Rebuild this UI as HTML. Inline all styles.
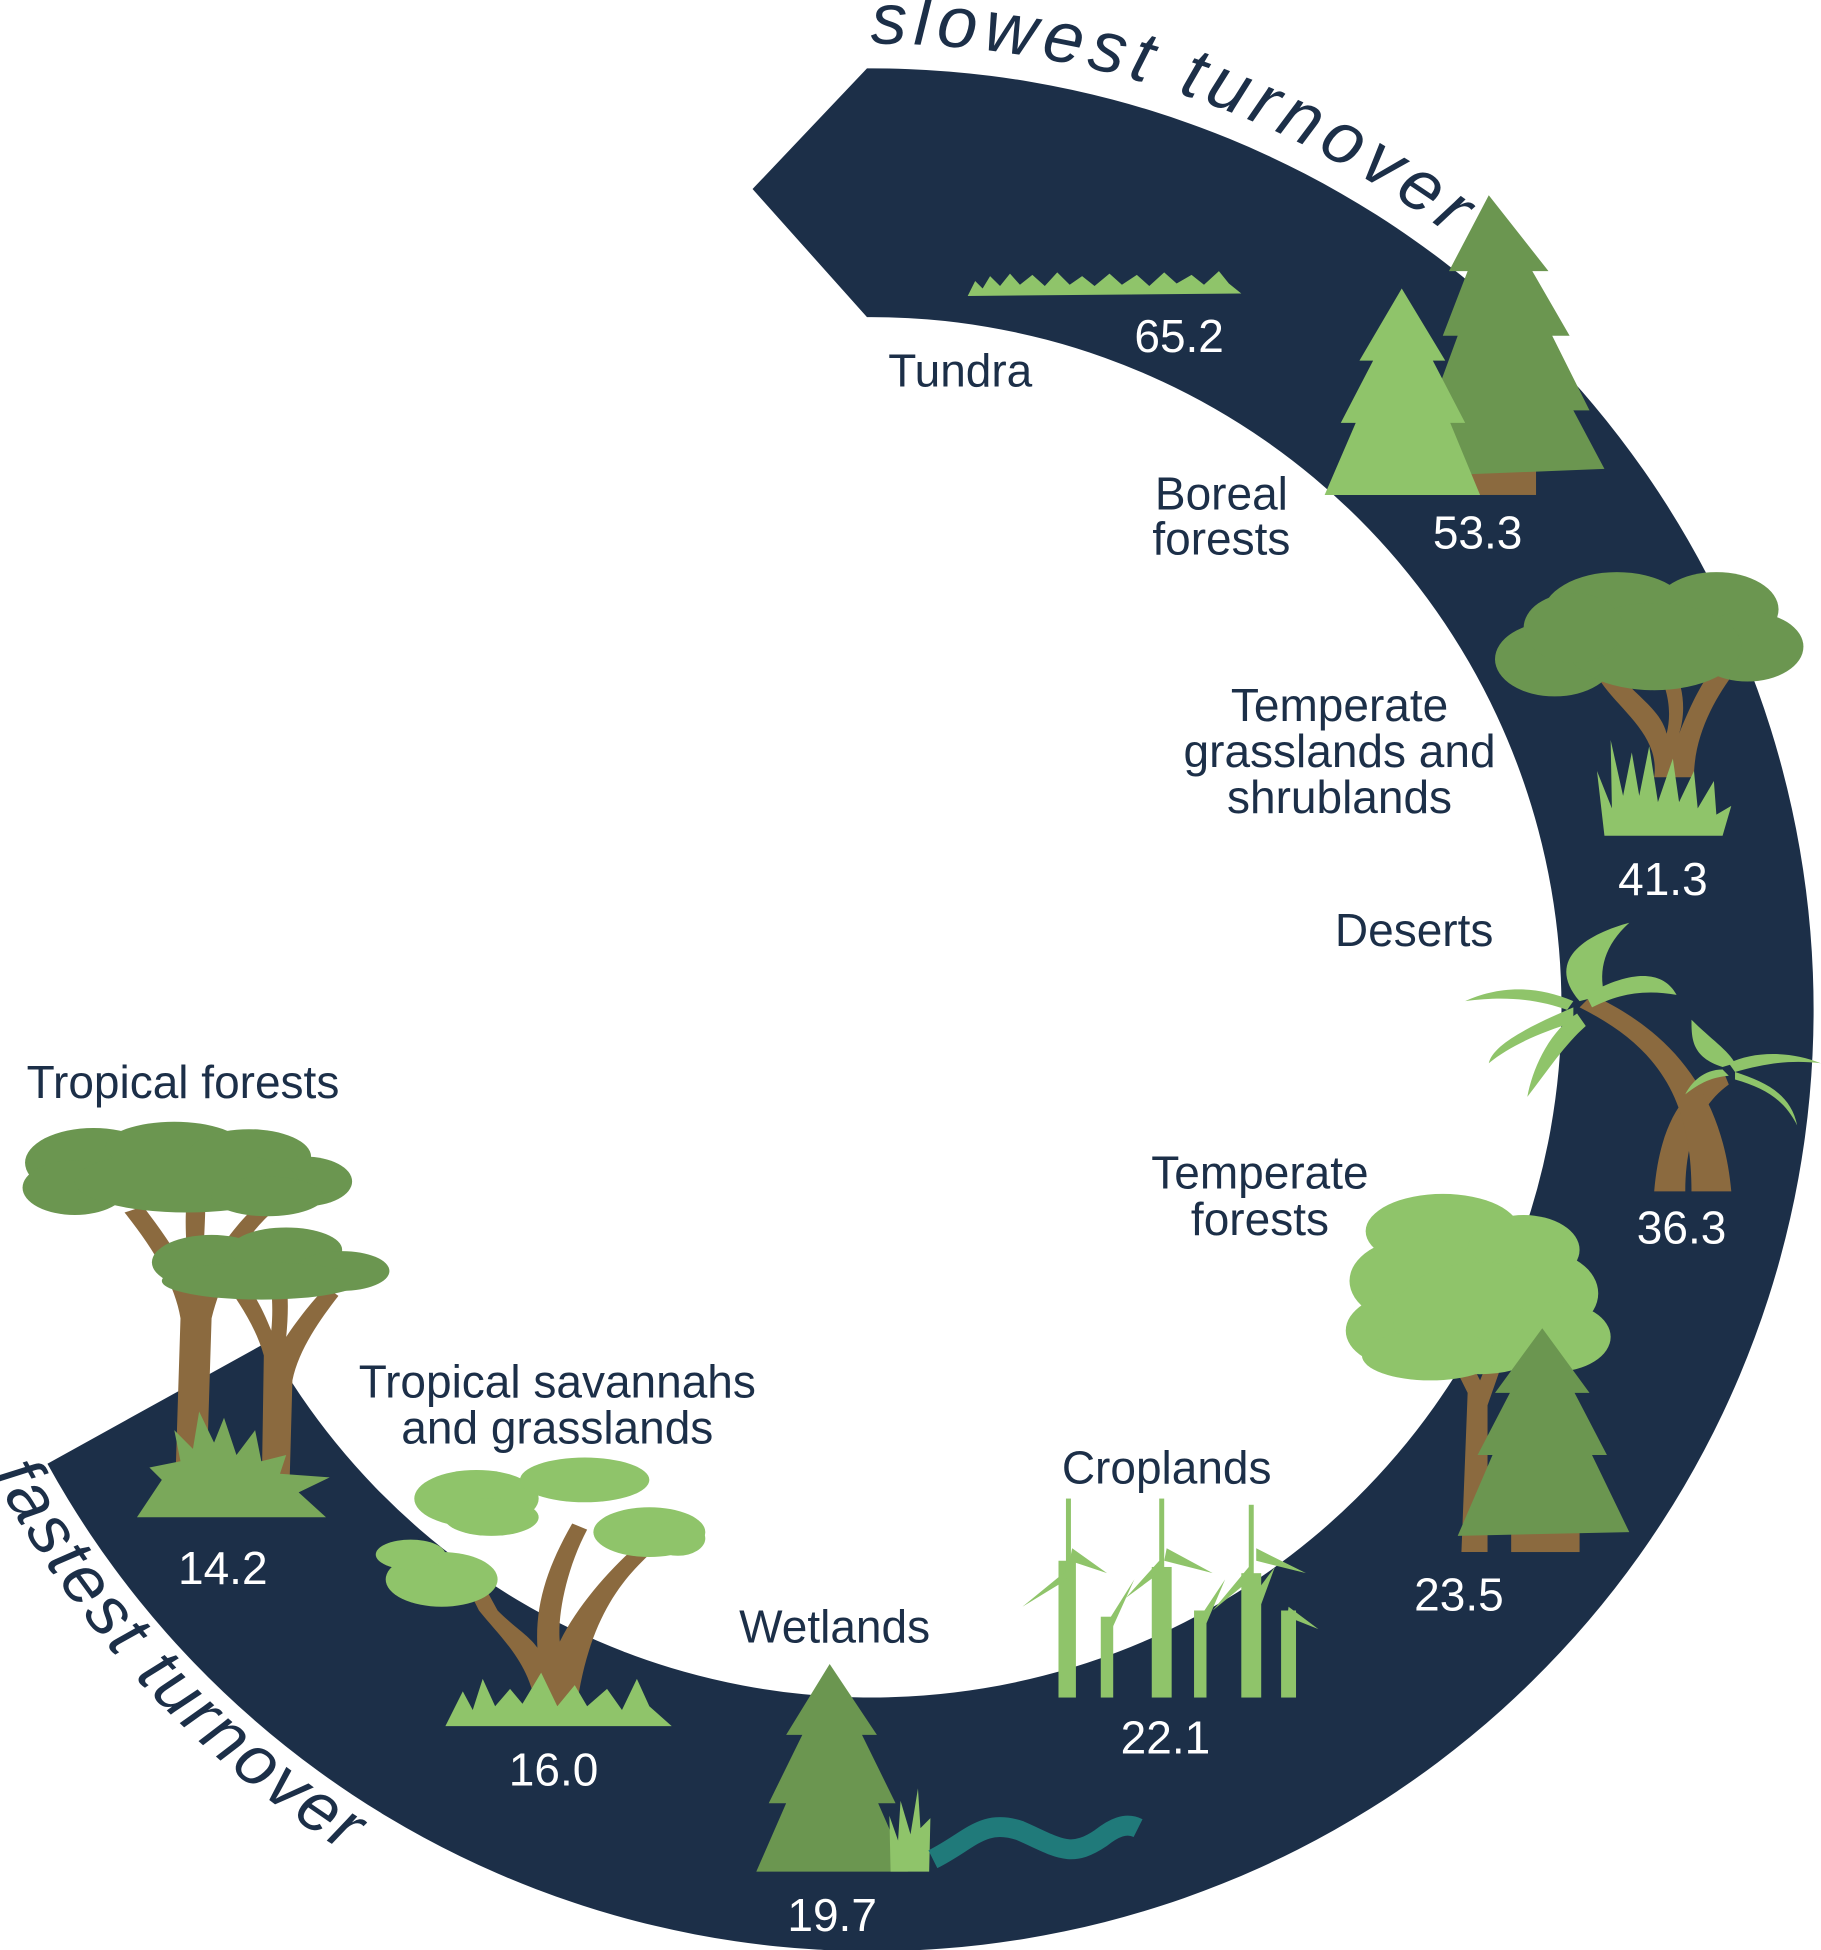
<!DOCTYPE html>
<html><head><meta charset="utf-8"><style>
html,body{margin:0;padding:0;background:#fff}
svg{display:block}
text{font-family:"Liberation Sans","DejaVu Sans",sans-serif}
</style></head><body>
<svg width="1821" height="1950" viewBox="0 0 1464 1568" xmlns="http://www.w3.org/2000/svg">
<defs>
<path id="slow" d="M 700 35 A 775 775 0 0 1 1180 200" fill="none"/>
<path id="fast" d="M -6 1186 A 800 800 0 0 0 300 1503" fill="none"/>
</defs>
<path d="M 697 55 A 757 757 0 1 1 38 1177 L 215 1079 A 555 555 0 1 0 697 255 L 605 152 Z" fill="#1c2f48"/>
<text font-size="58" font-style="italic" fill="#1c2f48"><textPath href="#slow" textLength="500" lengthAdjust="spacing">slowest turnover</textPath></text>
<text font-size="56" font-style="italic" fill="#1c2f48"><textPath href="#fast" textLength="420" lengthAdjust="spacing">fastest turnover</textPath></text>

<path d="M778 238 L784 226 L790 232 L796 222 L804 230 L812 220 L820 229 L830 221 L840 230 L850 219 L860 229 L870 222 L880 230 L892 220 L902 229 L914 221 L924 230 L936 219 L946 228 L958 221 L968 229 L980 218 L988 228 L998 236 Z" fill="#8fc46a"/>

<rect x="1175" y="378" width="60" height="20" fill="#8b6a3f"/>
<path d="M1197 157 L1245 218 L1232 218 L1262 270 L1248 270 L1278 330 L1265 330 L1290 377 L1140 383 L1160 330 L1150 330 L1172 270 L1160 270 L1180 218 L1165 218 Z" fill="#6b9650"/>
<path d="M1127 232 L1162 290 L1152 290 L1178 340 L1166 340 L1190 398 L1065 398 L1090 340 L1078 340 L1104 290 L1093 290 Z" fill="#8fc46a"/>

<path d="M1330 625 C1335 590 1300 570 1285 545 L1300 540 C1315 560 1335 570 1340 590 C1345 570 1340 550 1330 535 L1345 535 C1355 555 1355 575 1350 590 C1360 565 1370 545 1380 535 L1395 540 C1380 560 1362 590 1362 625 Z" fill="#8b6a3f"/>
<g fill="#6b9650">
<ellipse cx="1250" cy="530" rx="48" ry="30"/><ellipse cx="1300" cy="495" rx="60" ry="35"/><ellipse cx="1380" cy="490" rx="50" ry="30"/><ellipse cx="1405" cy="520" rx="45" ry="28"/><ellipse cx="1330" cy="520" rx="70" ry="35"/><ellipse cx="1265" cy="505" rx="40" ry="28"/>
</g>
<path d="M1290 672 L1284 620 L1296 650 L1295 595 L1305 640 L1312 605 L1318 640 L1326 600 L1333 645 L1345 610 L1350 645 L1362 620 L1365 650 L1378 628 L1380 655 L1392 648 L1385 672 Z" fill="#8fc46a"/>

<path d="M1330 958 C1335 900 1355 875 1385 860 L1390 872 C1365 890 1355 920 1355 958 Z" fill="#8b6a3f"/>
<path d="M1360 958 C1360 880 1330 840 1270 810 L1280 800 C1345 830 1385 880 1392 958 Z" fill="#8b6a3f"/>
<g fill="#8fc46a">
<path d="M1270 805 C1240 770 1280 750 1310 742 C1290 760 1285 780 1290 800 Z"/>
<path d="M1275 800 C1320 775 1340 785 1348 800 C1320 795 1300 800 1280 810 Z"/>
<path d="M1265 805 C1230 790 1200 795 1178 805 C1215 800 1240 805 1260 812 Z"/>
<path d="M1265 810 C1230 825 1200 840 1197 855 C1215 840 1240 830 1265 822 Z"/>
<path d="M1268 815 C1245 830 1232 860 1228 882 C1245 860 1258 840 1275 825 Z"/>
<path d="M1385 858 C1360 850 1360 835 1360 820 C1375 835 1390 845 1395 855 Z"/>
<path d="M1390 855 C1410 845 1440 845 1464 855 C1440 852 1420 855 1395 862 Z"/>
<path d="M1385 860 C1370 860 1360 870 1355 880 C1370 868 1380 866 1390 865 Z"/>
<path d="M1395 862 C1420 870 1440 880 1445 905 C1435 885 1420 875 1395 868 Z"/>
</g>

<path d="M1175 1248 L1180 1120 L1165 1090 L1180 1090 L1190 1110 L1200 1085 L1210 1090 L1196 1130 L1196 1248 Z" fill="#8b6a3f"/>
<g fill="#8fc46a">
<ellipse cx="1160" cy="990" rx="62" ry="30"/><ellipse cx="1225" cy="1005" rx="45" ry="28"/><ellipse cx="1140" cy="1030" rx="55" ry="35"/><ellipse cx="1235" cy="1040" rx="50" ry="35"/><ellipse cx="1130" cy="1070" rx="48" ry="30"/><ellipse cx="1190" cy="1060" rx="70" ry="45"/><ellipse cx="1250" cy="1075" rx="45" ry="28"/><ellipse cx="1150" cy="1090" rx="55" ry="20"/>
</g>
<rect x="1215" y="1230" width="55" height="18" fill="#8b6a3f"/>
<path d="M1240 1068 L1278 1120 L1266 1120 L1292 1170 L1280 1170 L1310 1232 L1172 1235 L1200 1170 L1188 1170 L1214 1120 L1202 1120 Z" fill="#6b9650"/>

<g fill="#8fc46a">
<rect x="851" y="1255" width="14" height="110"/><rect x="857" y="1205" width="4" height="60"/>
<rect x="885" y="1300" width="10" height="65"/>
<rect x="926" y="1260" width="16" height="105"/><rect x="932" y="1205" width="4" height="60"/>
<rect x="960" y="1295" width="10" height="70"/>
<rect x="998" y="1265" width="16" height="100"/><rect x="1004" y="1210" width="4" height="60"/>
<rect x="1030" y="1295" width="12" height="70"/>
<path d="M855 1265 L822 1292 L858 1270 Z M862 1245 L890 1265 L860 1255 Z M890 1305 L912 1270 L893 1312 Z M932 1255 L905 1285 L936 1262 Z M938 1245 L975 1265 L936 1255 Z M965 1300 L985 1270 L968 1310 Z M1004 1260 L975 1295 L1008 1268 Z M1010 1245 L1050 1265 L1010 1255 Z M1035 1300 L1060 1310 L1036 1292 Z M1010 1280 L1025 1260 L1014 1290 Z"/>
</g>

<path d="M667 1338 L705 1395 L693 1395 L720 1450 L706 1450 L730 1505 L608 1505 L632 1450 L618 1450 L645 1395 L632 1395 Z" fill="#6b9650"/>
<path d="M716 1505 L715 1460 L722 1480 L724 1448 L732 1475 L738 1438 L740 1470 L748 1462 L747 1505 Z" fill="#8fc46a"/>
<path d="M750 1495 C780 1480 790 1462 820 1472 C850 1485 860 1495 885 1478 C895 1470 905 1465 915 1470" fill="none" stroke="#207a7a" stroke-width="16"/>

<path d="M432 1385 C430 1340 405 1320 385 1295 L370 1265 L382 1262 L400 1295 C415 1310 425 1315 432 1325 C430 1290 440 1260 460 1225 L472 1230 C455 1262 448 1300 450 1320 C465 1290 490 1262 515 1240 L522 1250 C495 1275 470 1310 462 1385 Z" fill="#8b6a3f"/>
<g fill="#8fc46a">
<ellipse cx="383" cy="1205" rx="50" ry="23"/><ellipse cx="395" cy="1220" rx="38" ry="15"/>
<ellipse cx="470" cy="1190" rx="52" ry="18"/>
<ellipse cx="522" cy="1232" rx="45" ry="20"/><ellipse cx="545" cy="1237" rx="22" ry="14"/>
<ellipse cx="355" cy="1270" rx="45" ry="22"/><ellipse cx="330" cy="1250" rx="28" ry="12"/>
</g>
<path d="M358 1388 L372 1360 L380 1375 L388 1350 L398 1372 L410 1358 L420 1370 L435 1345 L448 1372 L462 1355 L472 1372 L488 1358 L500 1375 L512 1350 L522 1372 L540 1388 Z" fill="#8fc46a"/>

<path d="M140 1218 L145 1060 C140 1030 120 1000 100 975 L115 970 C130 990 145 1010 152 1030 C150 1005 148 985 150 965 L165 965 C165 990 162 1010 165 1030 C175 1000 195 980 210 965 L222 972 C200 990 180 1020 170 1060 L165 1218 Z" fill="#8b6a3f"/>
<path d="M210 1218 L212 1090 C205 1065 190 1045 180 1030 L192 1025 C205 1040 212 1055 218 1070 C220 1050 218 1030 215 1015 L228 1015 C232 1035 232 1055 230 1075 C240 1060 252 1045 262 1035 L272 1042 C258 1060 240 1085 235 1110 L232 1218 Z" fill="#8b6a3f"/>
<g fill="#6b9650">
<ellipse cx="75" cy="935" rx="55" ry="28"/><ellipse cx="140" cy="922" rx="55" ry="20"/><ellipse cx="200" cy="930" rx="50" ry="22"/><ellipse cx="245" cy="950" rx="38" ry="20"/><ellipse cx="60" cy="955" rx="42" ry="22"/><ellipse cx="150" cy="950" rx="90" ry="25"/><ellipse cx="215" cy="962" rx="45" ry="16"/>
<ellipse cx="170" cy="1015" rx="48" ry="22"/><ellipse cx="230" cy="1005" rx="45" ry="18"/><ellipse cx="275" cy="1022" rx="38" ry="16"/><ellipse cx="210" cy="1030" rx="80" ry="15"/>
</g>
<path d="M110 1220 L130 1190 L120 1180 L145 1175 L140 1150 L155 1165 L160 1135 L172 1160 L180 1140 L190 1170 L205 1150 L210 1175 L230 1170 L225 1185 L265 1188 L240 1200 L262 1220 Z" fill="#7aa85a"/>

<g font-size="37" fill="#1c2f48" text-anchor="middle" dominant-baseline="central">
<text x="772" y="298">Tundra</text>
<text x="982" y="397">Boreal</text><text x="982" y="433">forests</text>
<text x="1077" y="567">Temperate</text><text x="1077" y="604">grasslands and</text><text x="1077" y="641">shrublands</text>
<text x="1137" y="748">Deserts</text>
<text x="1013" y="943">Temperate</text><text x="1013" y="980">forests</text>
<text x="938" y="1180">Croplands</text>
<text x="671" y="1308">Wetlands</text>
<text x="448" y="1111">Tropical savannahs</text><text x="448" y="1148">and grasslands</text>
<text x="147" y="870">Tropical forests</text>
</g>
<g font-size="37" fill="#fff" text-anchor="middle" dominant-baseline="central">
<text x="948" y="270">65.2</text>
<text x="1188" y="428">53.3</text>
<text x="1337" y="707">41.3</text>
<text x="1352" y="987">36.3</text>
<text x="1173" y="1282">23.5</text>
<text x="937" y="1397">22.1</text>
<text x="669" y="1540">19.7</text>
<text x="445" y="1423">16.0</text>
<text x="179" y="1261">14.2</text>
</g>
</svg>
</body></html>
